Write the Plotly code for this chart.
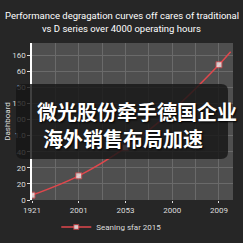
import plotly.graph_objects as go

x_labels = ["1921", "2001", "2053", "2000", "2009"]
x_pos = [0, 1, 2, 3, 4, 4.25]
y_values = [0.3, 1.5, 3.25, 5.55, 8.4, 9.2]
marker_sizes = [6, 6, 6, 6, 6, 0]
y_tick_text = ["0", "20", "20", "40", "1.0", "00", "150", "50", "60", "160"]
series_name = "Seaning sfar 2015"
title_lines = ["Performance degragation curves off cares of traditional",
               "vs D series over 4000 operating hours"]
overlay_lines = ["微光股份牵手德国企业", "海外销售布局加速"]

W, H = 243, 243
L, R, T, B = 32, 10, 43, 43
pw, ph = W - L - R, H - T - B

def px2paper(px, py):
    return (px - L) / pw, (H - B - py) / ph

fig = go.Figure()
fig.add_trace(go.Scatter(
    x=x_pos, y=y_values, mode="lines+markers", name=series_name,
    line=dict(color="#e0474c", width=1.5, shape="spline"),
    marker=dict(symbol="square", size=marker_sizes, color="white",
                line=dict(color="#e0474c", width=1)),
))

x0, y0, x1, y1, r = 16, 84, 228, 159, 7
def P(px, py):
    a, b = px2paper(px, py)
    return f"{a:.4f},{b:.4f}"
path = (f"M {P(x0+r,y0)} L {P(x1-r,y0)} Q {P(x1,y0)} {P(x1,y0+r)} "
        f"L {P(x1,y1-r)} Q {P(x1,y1)} {P(x1-r,y1)} L {P(x0+r,y1)} "
        f"Q {P(x0,y1)} {P(x0,y1-r)} L {P(x0,y0+r)} Q {P(x0,y0)} {P(x0+r,y0)} Z")
fig.add_shape(type="path", path=path, xref="paper", yref="paper",
              fillcolor="rgba(22,22,22,0.82)", line=dict(width=0), layer="above")

for (px, py), txt in zip([(35, 111), (41, 138)], overlay_lines):
    ax, ay = px2paper(px, py)
    fig.add_annotation(x=ax, y=ay, xref="paper", yref="paper", text=f"<b>{txt}</b>",
                       showarrow=False, xanchor="left", yanchor="middle",
                       font=dict(family="Noto Sans CJK SC", size=20, color="white",
                                 shadow="1px 1px 2px black"))

for py, txt in zip([15, 28], title_lines):
    ax, ay = px2paper(W / 2, py)
    fig.add_annotation(x=ax, y=ay, xref="paper", yref="paper", text=txt,
                       showarrow=False, xanchor="center", yanchor="middle",
                       font=dict(family="Roboto", size=9.5, color="white"))

fig.update_layout(
    width=W, height=H,
    margin=dict(l=L, r=R, t=T, b=B, autoexpand=False),
    paper_bgcolor="#262626", plot_bgcolor="#4f4f4f",
    font=dict(family="Roboto", color="#dddddd", size=8),
    showlegend=True,
    legend=dict(orientation="h", x=0.46, xanchor="center", xref="container",
                y=(H - 227) / H, yanchor="middle", yref="container",
                font=dict(size=8, color="#dddddd"), bgcolor="rgba(0,0,0,0)"),
    xaxis=dict(range=[0, 4.3], tickvals=[0, 1, 2, 3, 4], ticktext=x_labels,
               showgrid=True, gridcolor="#6a6a6a", gridwidth=1,
               minor=dict(dtick=0.5, showgrid=True, gridcolor="#6a6a6a"),
               zeroline=False, ticks="outside", ticklen=2, tickcolor="#dddddd",
               showline=False, tickfont=dict(size=8)),
    yaxis=dict(range=[0, 9.75], tickvals=list(range(10)), ticktext=y_tick_text,
               showgrid=True, gridcolor="#6a6a6a", zeroline=False,
               showline=True, linecolor="white", linewidth=1.5,
               ticks="outside", ticklen=3, tickcolor="#dddddd",
               title=dict(text="Dashboard", font=dict(size=8, color="#dddddd"), standoff=0),
               tickfont=dict(size=8)),
)

fig.write_html("out.html")
